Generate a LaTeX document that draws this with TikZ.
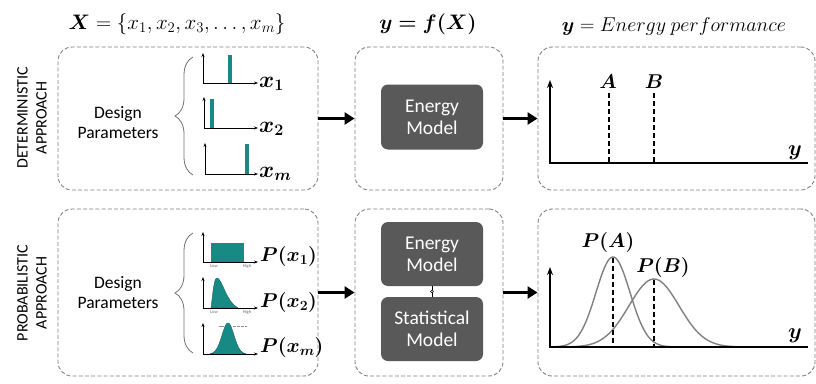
\documentclass[tikz,border=0pt]{standalone}
\usepackage{fix-cm}
\usepackage{amsmath,bm}
\usepackage[no-math]{fontspec}
\setmainfont{Carlito}
\usetikzlibrary{arrows.meta,decorations.pathreplacing}
\definecolor{parteal}{RGB}{24,138,134}
\definecolor{boxgrey}{RGB}{89,89,89}
\definecolor{curvegrey}{RGB}{128,128,128}
\tikzset{
	dashbox/.style={draw=black!50, line width=0.9pt, dash pattern=on 4pt off 2.2pt, rounded corners=14pt, inner sep=0pt},
	modelbox/.style={fill=boxgrey, text=white, rounded corners=7pt, minimum width=102pt, minimum height=65pt, inner sep=0pt, align=center, font=\fontsize{19.5}{22}\selectfont},
	bigarrow/.style={line width=3.2pt, -{Triangle[length=10pt,width=12pt]}},
	smallaxis/.style={line width=0.7pt, {Stealth[length=4pt,width=3pt]}-{Stealth[length=4pt,width=3pt]}},
	bigaxis/.style={line width=1.8pt, {Stealth[length=8pt,width=6pt]}-},
	mathlbl/.style={font=\fontsize{20}{24}\selectfont, inner sep=0pt},
	sidelbl/.style={rotate=90, align=center, font=\fontsize{16}{19}\selectfont},
	tinylbl/.style={font=\fontsize{4.5}{5}\selectfont, text=black!60, inner sep=0pt}
}

\begin{document}
\begin{tikzpicture}[x=1pt, y=-1pt]
			%%%%% START %%%%%
			\useasboundingbox (0,0) rectangle (816,383);
			
			% titles
			\node[font=\fontsize{21}{25}\selectfont] (ttlX) at (177,24) {$\bm{X} = \{x_1, x_2, x_3, \ldots, x_m\}$};
			\node[font=\fontsize{21}{25}\selectfont] (ttlF) at (428,24) {$\bm{y = f(X)}$};
			\node[font=\fontsize{20}{24}\selectfont] (ttlY) at (674,26) {$\bm{y} = Energy\ performance$};
			
			% dashed panels
			\node[dashbox, minimum width=260pt, minimum height=143pt] (detIn) at (188,118.5) {};
			\node[dashbox, minimum width=148pt, minimum height=143pt] (detModel) at (429,118.5) {};
			\node[dashbox, minimum width=277pt, minimum height=143pt] (detOut) at (676.5,118.5) {};
			\node[dashbox, minimum width=260pt, minimum height=167pt] (probIn) at (188,292.5) {};
			\node[dashbox, minimum width=148pt, minimum height=167pt] (probModel) at (429,292.5) {};
			\node[dashbox, minimum width=277pt, minimum height=167pt] (probOut) at (676.5,292.5) {};
			
			\node[sidelbl] (detLbl) at (32,118) {DETERMINISTIC\\APPROACH};
			\node[sidelbl] (probLbl) at (32,293) {PROBABILISTIC\\APPROACH};
			
			\node[align=center, font=\fontsize{17.5}{20}\selectfont] (detDP) at (118,123) {Design\\Parameters};
			\node[align=center, font=\fontsize{17.5}{20}\selectfont] (probDP) at (118,293) {Design\\Parameters};
			
			\draw[black!55, line width=0.8pt, decorate, decoration={brace, amplitude=18pt}] (193,175) -- (193,57);
			\draw[black!55, line width=0.8pt, decorate, decoration={brace, amplitude=18pt}] (193,353) -- (193,233);
			
			% deterministic inputs
			\draw[smallaxis] (203,53) -- (203,83) -- (258,83);
			\fill[parteal] (228,55) rectangle (232,83);
			\node[mathlbl, font=\fontsize{23}{26}\selectfont, anchor=base west] (x1) at (259,87) {$\bm{x_1}$};
			
			\draw[smallaxis] (204,97) -- (204,128) -- (258,128);
			\fill[parteal] (210,99) rectangle (214,128);
			\node[mathlbl, font=\fontsize{23}{26}\selectfont, anchor=base west] (x2) at (259,132) {$\bm{x_2}$};
			
			\draw[smallaxis] (205,143) -- (205,174) -- (258,174);
			\fill[parteal] (245,144) rectangle (249,174);
			\node[mathlbl, font=\fontsize{23}{26}\selectfont, anchor=base west] (xm) at (259,177) {$\bm{x_m}$};
			
			% probabilistic inputs
			\fill[parteal] (211,243) rectangle (244,262);
			\draw[smallaxis] (203,232) -- (203,262) -- (258,262);
			\node[tinylbl] (lo1) at (214,266.5) {Low};
			\node[tinylbl] (hi1) at (247,266.5) {High};
			\node[mathlbl, anchor=base west] (px1) at (260,261) {$\bm{P(x_1)}$};
			
			\fill[parteal, draw=parteal!70!black, line width=0.4pt] (211,308) .. controls (213,292) and (214,278) .. (217,278) .. controls (222,278) and (226,302) .. (238,308) -- cycle;
			\draw[smallaxis] (203,277) -- (203,308) -- (258,308);
			\node[tinylbl] (lo2) at (214,312.5) {Low};
			\node[tinylbl] (hi2) at (247,312.5) {High};
			\node[mathlbl, anchor=base west] (px2) at (260,307) {$\bm{P(x_2)}$};
			
			\fill[parteal, draw=parteal!70!black, line width=0.4pt] plot[domain=210:246, samples=60] (\x,{354-31*exp(-((\x-228)^2)/(2*6^2))}) -- cycle;
			\draw[smallaxis] (203,323) -- (203,354) -- (258,354);
			\draw[black!45, line width=0.4pt] (219,326) -- (224,326);
			\draw[black!45, line width=0.4pt, dash pattern=on 3pt off 1pt] (233,326) -- (247,326);
			\node[mathlbl, anchor=base west] (pxm) at (260,352) {$\bm{P(x_m)}$};
			
			% models
			\node[modelbox] (emTop) at (432,117) {Energy\\Model};
			\node[modelbox, minimum height=64pt] (emBot) at (432,254) {Energy\\Model};
			\node[modelbox, minimum height=64pt] (statBot) at (432,329) {Statistical\\Model};
			\draw[line width=0.6pt] (emBot.south) -- (statBot.north) node[midway, circle, draw, fill=white, inner sep=1.1pt] (link) {};
			
			% flow arrows
			\draw[bigarrow] (detIn.east) -- (detModel.west);
			\draw[bigarrow] (detModel.east) -- (detOut.west);
			\draw[bigarrow] (probIn.east) -- (probModel.west);
			\draw[bigarrow] (probModel.east) -- (probOut.west);
			
			% deterministic output
			\draw[bigaxis] (550,80) -- (550,163) -- (808,163);
			\draw[line width=1.3pt, dash pattern=on 5pt off 3pt] (609,93) -- (609,163);
			\draw[line width=1.3pt, dash pattern=on 5pt off 3pt] (654,93) -- (654,163);
			\node[mathlbl, anchor=base] (lblA) at (608,88) {$\bm{A}$};
			\node[mathlbl, anchor=base] (lblB) at (654,88) {$\bm{B}$};
			\node[mathlbl, font=\fontsize{22}{26}\selectfont, anchor=base] (yTop) at (795,155) {$\bm{y}$};
			
			% probabilistic output
			\draw[curvegrey, line width=1.4pt] plot[domain=552:690, samples=90] (\x,{347-90*exp(-((\x-613)^2)/(2*17^2))});
			\draw[curvegrey, line width=1.4pt] plot[domain=552:760, samples=90] (\x,{347-68*exp(-((\x-654)^2)/(2*25^2))});
			\draw[bigaxis] (550,267) -- (550,347) -- (808,347);
			\draw[line width=1.2pt, dash pattern=on 5pt off 3pt] (613,258) -- (613,347);
			\draw[line width=1.2pt, dash pattern=on 5pt off 3pt] (654,280) -- (654,347);
			\node[mathlbl, anchor=base] (lblPA) at (608,247) {$\bm{P(A)}$};
			\node[mathlbl, anchor=base] (lblPB) at (663,272) {$\bm{P(B)}$};
			\node[mathlbl, font=\fontsize{22}{26}\selectfont, anchor=base] (yBot) at (795,338) {$\bm{y}$};
			
			%%%%% END %%%%%
\end{tikzpicture}
\end{document}
